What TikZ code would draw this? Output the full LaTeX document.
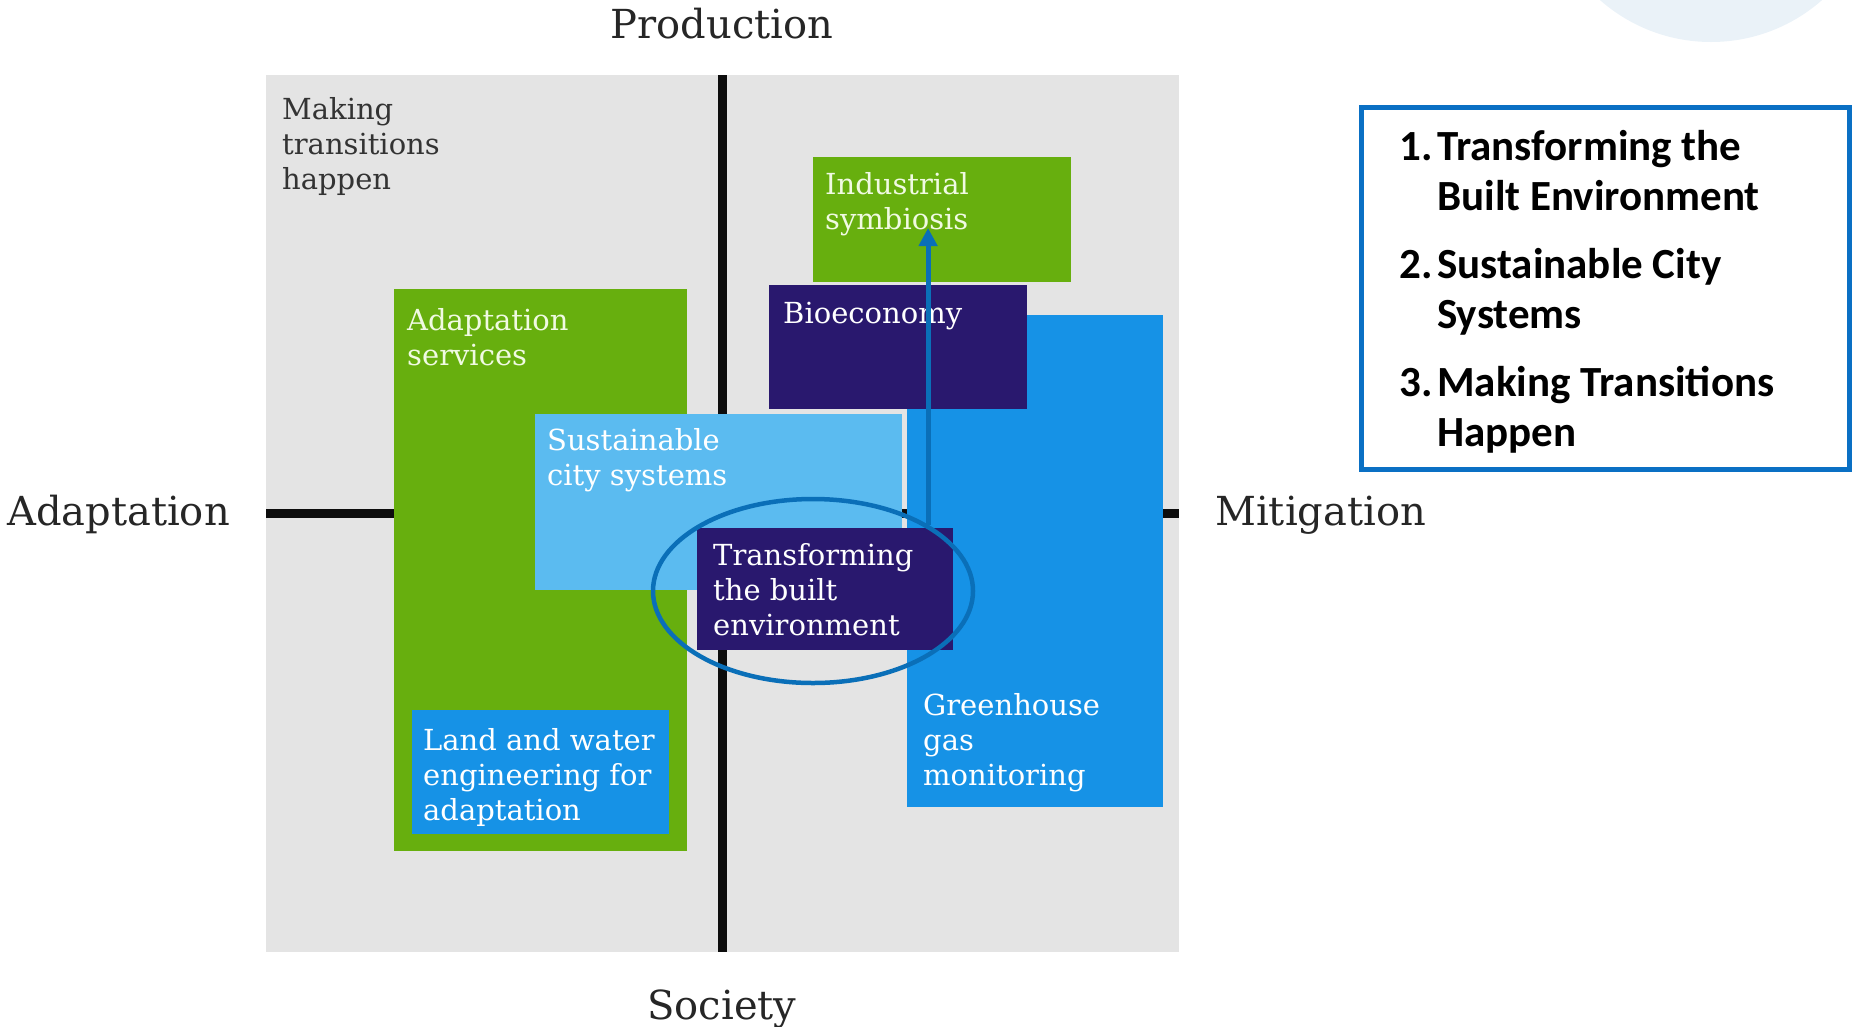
\documentclass[tikz,border=0pt]{standalone}
\usepackage{fontspec}
\usetikzlibrary{positioning,shapes.geometric,arrows.meta}
\newfontfamily\slab{DejaVu Serif}
\newfontfamily\calib{Carlito}
\definecolor{bggrey}{HTML}{E4E4E4}
\definecolor{leaf}{HTML}{67AF0E}
\definecolor{leaftext}{HTML}{F0FAE2}
\definecolor{navy}{HTML}{29186E}
\definecolor{skyblue}{HTML}{5BBBF0}
\definecolor{midblue}{HTML}{1692E6}
\definecolor{ringblue}{HTML}{0A6FB8}
\definecolor{legendblue}{HTML}{0A70C4}
\definecolor{halo}{HTML}{EAF2F8}

\tikzset{
  zone/.style={anchor=north west, inner sep=0pt, outer sep=0pt},
  tag/.style={anchor=north west, inner sep=0pt, align=left, text=white,
    font=\slab\fontsize{29}{35}\selectfont},
  axislabel/.style={inner sep=0pt, text=black!85, font=\slab\fontsize{40}{48}\selectfont},
  axis/.style={line width=9pt, black!95},
  flow/.style={line width=5pt, ringblue, -{Triangle[length=18pt,width=18pt]}},
}

\begin{document}
\begin{tikzpicture}[x=1pt, y=-1pt]
    \useasboundingbox (0,0) rectangle (1854,1026);
    \fill[halo] (1711,-126) circle[radius=168pt];

    % quadrant field and axes
    \node (bg) [zone, fill=bggrey, minimum width=913pt, minimum height=877pt] at (266,75) {};
    \draw[axis] (bg.north) -- (bg.south);
    \draw[axis] (bg.west) -- (bg.east);

    \node (prod) [axislabel, anchor=base] at (722,38) {Production};
    \node (soc) [axislabel, anchor=base] at (722,1019) {Society};
    \node (adlbl) [axislabel, anchor=base east] at (230,525) {Adaptation};
    \node (mitlbl) [axislabel, anchor=base west] at (1215,525) {Mitigation};

    % areas
    \node (adapt) [zone, fill=leaf, minimum width=293pt, minimum height=562pt] at (394,289) {};
    \node (land) [zone, fill=midblue, minimum width=257pt, minimum height=124pt] at (412,710) {};
    \node (city) [zone, fill=skyblue, minimum width=367pt, minimum height=176pt] at (535,414) {};
    \node (indus) [zone, fill=leaf, minimum width=258pt, minimum height=125pt] at (813,157) {};
    \node (ghg) [zone, fill=midblue, minimum width=256pt, minimum height=492pt] at (907,315) {};
    \node (bio) [zone, fill=navy, minimum width=258pt, minimum height=124pt] at (769,285) {};
    \node (built) [zone, fill=navy, minimum width=256pt, minimum height=122pt] at (697,528) {};

    \node (making) [tag, text=black!80] at ([shift={(16,22)}]bg.north west) {Making\\transitions\\happen};
    \node (adaptlbl) [tag, text=leaftext] at ([shift={(13,19)}]adapt.north west) {Adaptation\\services};
    \node (landlbl) [tag] at ([shift={(11,18)}]land.north west) {Land and water\\engineering for\\adaptation};
    \node (citylbl) [tag] at ([shift={(12,14)}]city.north west) {Sustainable\\city systems};
    \node (induslbl) [tag, text=leaftext] at ([shift={(12,15)}]indus.north west) {Industrial\\symbiosis};
    \node (biolbl) [tag] at ([shift={(14,17)}]bio.north west) {Bioeconomy};
    \node (builtlbl) [tag] at ([shift={(16,15)}]built.north west) {Transforming\\the built\\environment};
    \node (ghglbl) [tag] at ([shift={(16,378)}]ghg.north west) {Greenhouse\\gas\\monitoring};

    % highlight
    \node (ring) [ellipse, draw=ringblue, line width=4.5pt, minimum width=320pt,
        minimum height=184pt, inner sep=0pt] at (813,591) {};
    \coordinate (tip) at (926,228);
    \draw[flow] (ring.30) -- (ring.30 |- tip);

    % legend
    \node (legend) [zone, draw=legendblue, line width=5pt, minimum width=488pt,
        minimum height=362pt] at (1361.5,107.5) {};
    \node (legendtxt) [anchor=north west, inner sep=0pt,
        font=\calib\bfseries\fontsize{43}{50}\selectfont] at (1399,125) {%
        \begin{tabular}{@{}p{38pt}@{}l@{}}
        1. & Transforming the\\
           & Built Environment\\[18pt]
        2. & Sustainable City\\
           & Systems\\[18pt]
        3. & Making Transitions\\
           & Happen
        \end{tabular}};
\end{tikzpicture}
\end{document}
